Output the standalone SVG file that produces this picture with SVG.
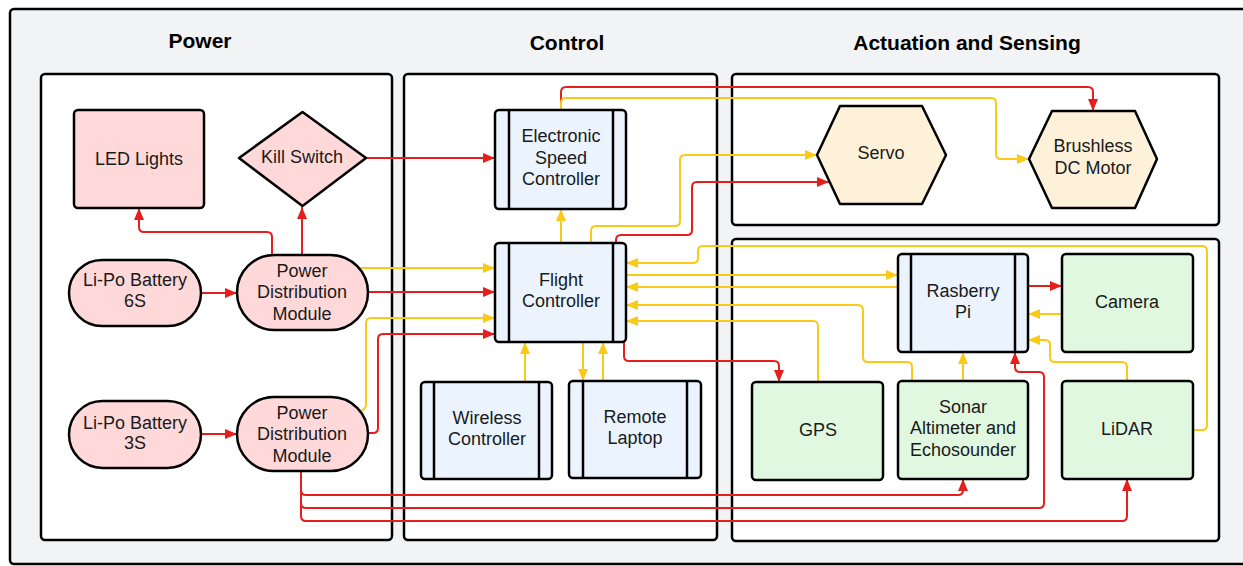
<svg xmlns="http://www.w3.org/2000/svg" width="1243" height="566" viewBox="0 0 1243 566">
<defs>
<style>
.frame{fill:#f2f3f5;stroke:#000;stroke-width:2.5}
.panel{fill:#fff;stroke:#000;stroke-width:2.5}
.nd{stroke:#000;stroke-width:2.5;stroke-linejoin:round}
.pink{fill:#ffd9d9}
.blue{fill:#ebf4fe}
.tan{fill:#fdf1da}
.green{fill:#e0f8e0}
.bar{stroke:#000;stroke-width:2.5}
text{font-family:"Liberation Sans",Arial,sans-serif;font-size:18px;fill:#1a1a1a;text-anchor:middle}
.title{font-size:21px;font-weight:bold;fill:#000}
.r{fill:none;stroke:#e61e1e;stroke-width:2}
.y{fill:none;stroke:#fbc917;stroke-width:2}
.ra{marker-end:url(#ar)}
.ya{marker-end:url(#ay)}
</style>
<marker id="ar" viewBox="0 0 12 10" refX="12" refY="5" markerWidth="12" markerHeight="10" markerUnits="userSpaceOnUse" orient="auto"><path d="M0,0 L12,5 L0,10 z" fill="#e61e1e"/></marker>
<marker id="ay" viewBox="0 0 12 10" refX="12" refY="5" markerWidth="12" markerHeight="10" markerUnits="userSpaceOnUse" orient="auto"><path d="M0,0 L12,5 L0,10 z" fill="#fbc917"/></marker>
</defs>

<rect class="frame" x="10" y="9" width="1250" height="555" rx="4"/>

<g id="panel-power"><rect class="panel" x="41" y="74" width="351" height="466" rx="4"/><text class="title" x="200" y="48">Power</text></g>
<g id="panel-control"><rect class="panel" x="404" y="74" width="313" height="466" rx="4"/><text class="title" x="567" y="50">Control</text></g>
<g id="panel-actuation"><rect class="panel" x="732" y="74" width="487" height="151" rx="4"/><text class="title" x="967" y="50">Actuation and Sensing</text></g>
<g id="panel-sensing"><rect class="panel" x="732" y="239" width="487" height="302" rx="4"/></g>

<g id="connectors">
<path class="r ra" d="M201,293 H237"/>
<path class="r ra" d="M201,434 H237"/>
<path class="r ra" d="M272,256 V237 Q272,232 267,232 H144 Q139,232 139,227 V208"/>
<path class="r ra" d="M302,255 V207"/>
<path class="r ra" d="M366,158 H495"/>
<path class="r ra" d="M368,292 H495"/>
<path class="y ya" d="M359,268 H495"/>
<path class="y ya" d="M360,411 Q366,410 366,404 V323 Q366,318 371,318 H495"/>
<path class="r ra" d="M368,433 H373 Q378,433 378,428 V339 Q378,334 383,334 H495"/>
<path class="r ra" d="M561,110 V92 Q561,87 566,87 H1088 Q1093,87 1093,92 V111"/>
<path class="y ya" d="M561,110 V103 Q561,98 566,98 H991 Q996,98 996,103 V154 Q996,159 1001,159 H1029"/>
<path class="y ya" d="M561,243 V209"/>
<path class="y ya" d="M591,243 V231 Q591,226 596,226 H675 Q680,226 680,221 V160 Q680,155 685,155 H817"/>
<path class="r ra" d="M616,243 V240 Q616,235 621,235 H687 Q692,235 692,230 V187 Q692,182 697,182 H829"/>
<path class="y ya" d="M1193,430 H1202 Q1207,430 1207,425 V251 Q1207,246 1202,246 H703 Q698,246 698,251 V258 Q698,263 693,263 H626"/>
<path class="y ya" d="M626,275 H898"/>
<path class="y ya" d="M898,287 H626"/>
<path class="y ya" d="M912,381 V367 Q912,362 907,362 H868 Q863,362 863,357 V310 Q863,305 858,305 H626"/>
<path class="y ya" d="M818,382 V326 Q818,321 813,321 H626"/>
<path class="r ra" d="M624,342 V356 Q624,361 629,361 H774 Q779,361 779,366 V382"/>
<path class="y ya" d="M525,382 V342"/>
<path class="y ya" d="M583,342 V381"/>
<path class="y ya" d="M603,381 V342"/>
<path class="y ya" d="M1062,314 H1028"/>
<path class="r ra" d="M1028,286 H1062"/>
<path class="y ya" d="M1127,381 V367 Q1127,362 1122,362 H1055 Q1050,362 1050,357 V345 Q1050,340 1045,340 H1028"/>
<path class="y ya" d="M963,381 V352"/>
<path class="r ra" d="M301,471 V490 Q301,495 306,495 H958 Q963,495 963,490 V479"/>
<path class="r ra" d="M301,471 V503 Q301,508 306,508 H1039 Q1044,508 1044,503 V377 Q1044,372 1039,372 H1020 Q1015,372 1015,367 V352"/>
<path class="r ra" d="M301,471 V516 Q301,521 306,521 H1122 Q1127,521 1127,516 V479"/>
</g>

<g id="led-lights"><rect class="nd pink" x="74" y="110" width="130" height="98" rx="4"/><text x="139" y="165">LED Lights</text></g>
<g id="kill-switch"><polygon class="nd pink" points="239,158 302.5,112 366,158 302.5,206"/><text x="302" y="163">Kill Switch</text></g>
<g id="lipo-6s"><rect class="nd pink" x="69" y="260" width="132" height="66" rx="33"/><text x="135" y="286">Li-Po Battery</text><text x="135" y="307">6S</text></g>
<g id="pdm-1"><rect class="nd pink" x="237" y="255" width="131" height="75" rx="37.5"/><text x="302" y="277">Power</text><text x="302" y="298">Distribution</text><text x="302" y="320">Module</text></g>
<g id="lipo-3s"><rect class="nd pink" x="69" y="401" width="132" height="67" rx="33.5"/><text x="135" y="429">Li-Po Battery</text><text x="135" y="449">3S</text></g>
<g id="pdm-2"><rect class="nd pink" x="237" y="397" width="131" height="74" rx="37"/><text x="302" y="419">Power</text><text x="302" y="440">Distribution</text><text x="302" y="462">Module</text></g>

<g id="esc"><rect class="nd blue" x="495" y="110" width="131" height="99" rx="4"/><line class="bar" x1="509" y1="110" x2="509" y2="209"/><line class="bar" x1="613" y1="110" x2="613" y2="209"/><text x="561" y="142">Electronic</text><text x="561" y="164">Speed</text><text x="561" y="185">Controller</text></g>
<g id="flight-controller"><rect class="nd blue" x="495" y="243" width="131" height="99" rx="4"/><line class="bar" x1="509" y1="243" x2="509" y2="342"/><line class="bar" x1="613" y1="243" x2="613" y2="342"/><text x="561" y="286">Flight</text><text x="561" y="307">Controller</text></g>
<g id="wireless-controller"><rect class="nd blue" x="421" y="382" width="131" height="97" rx="4"/><line class="bar" x1="434" y1="382" x2="434" y2="479"/><line class="bar" x1="539" y1="382" x2="539" y2="479"/><text x="487" y="424">Wireless</text><text x="487" y="445">Controller</text></g>
<g id="remote-laptop"><rect class="nd blue" x="569" y="381" width="132" height="97" rx="4"/><line class="bar" x1="583" y1="381" x2="583" y2="478"/><line class="bar" x1="687" y1="381" x2="687" y2="478"/><text x="635" y="423">Remote</text><text x="635" y="444">Laptop</text></g>

<g id="servo"><polygon class="nd tan" points="817,155 840,106 922,106 946,155 922,204 840,204"/><text x="881" y="159">Servo</text></g>
<g id="bldc-motor"><polygon class="nd tan" points="1029,159 1052,111 1135,111 1157,159 1135,208 1052,208"/><text x="1093" y="152">Brushless</text><text x="1093" y="174">DC Motor</text></g>

<g id="raspberry-pi"><rect class="nd blue" x="898" y="254" width="130" height="98" rx="4"/><line class="bar" x1="911" y1="254" x2="911" y2="352"/><line class="bar" x1="1015" y1="254" x2="1015" y2="352"/><text x="963" y="297">Rasberry</text><text x="963" y="318">Pi</text></g>
<g id="camera"><rect class="nd green" x="1062" y="254" width="131" height="98" rx="4"/><text x="1127" y="308">Camera</text></g>
<g id="gps"><rect class="nd green" x="752" y="382" width="131" height="98" rx="4"/><text x="818" y="436">GPS</text></g>
<g id="sonar"><rect class="nd green" x="898" y="381" width="130" height="98" rx="4"/><text x="963" y="413">Sonar</text><text x="963" y="434">Altimeter and</text><text x="963" y="456">Echosounder</text></g>
<g id="lidar"><rect class="nd green" x="1062" y="381" width="131" height="98" rx="4"/><text x="1127" y="435">LiDAR</text></g>
</svg>
